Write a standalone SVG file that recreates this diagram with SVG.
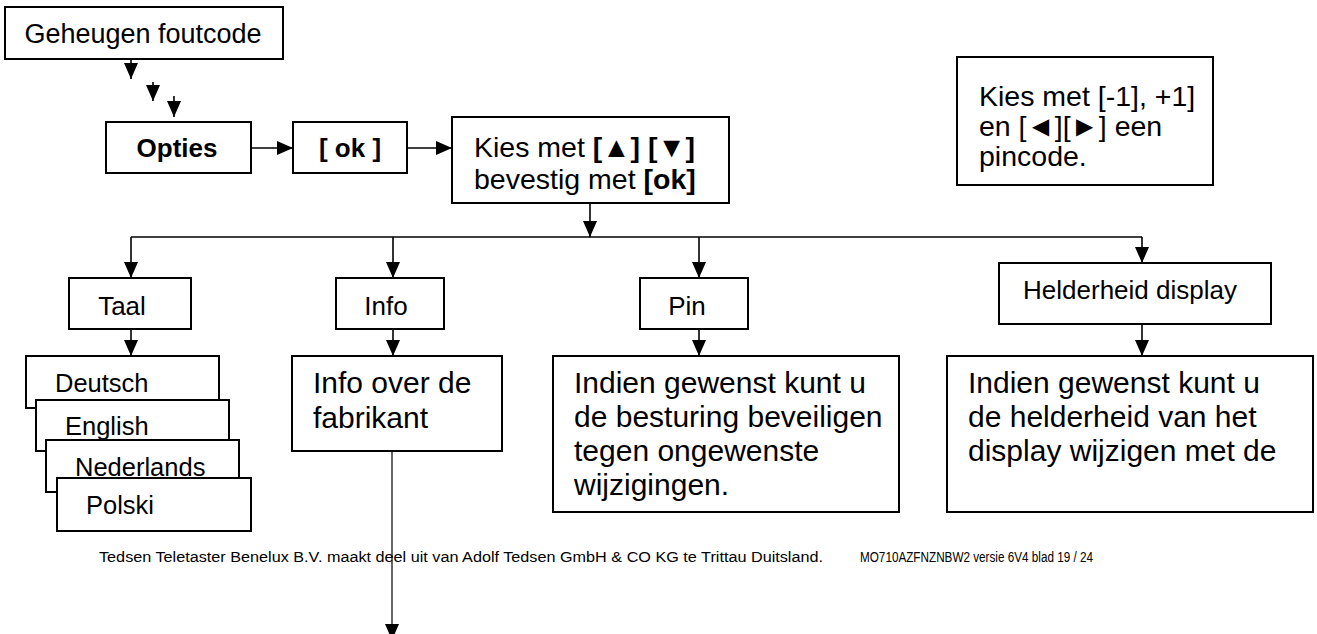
<svg xmlns="http://www.w3.org/2000/svg" width="1317" height="634" viewBox="0 0 1317 634">
<style>
.box{fill:#fff;stroke:#000;stroke-width:2}
.ln{stroke:#000;stroke-width:1.6;fill:none}
.thin{stroke:#000;stroke-width:1.2;fill:none}
text{font-family:"Liberation Sans",Arial,sans-serif;fill:#000}
.b{font-weight:bold}
.s26{font-size:26px}
.s27{font-size:27px}
.s28{font-size:28.5px}
.s30{font-size:30px}
.s25{font-size:25.5px}
.ft{font-size:14px}
</style>
<defs>
<marker id="ah" markerUnits="userSpaceOnUse" markerWidth="16" markerHeight="14" viewBox="0 0 16 14" refX="16" refY="7" orient="auto"><path d="M0,0 L16,7 L0,14 z" fill="#000"/></marker>
</defs>
<g id="connectors">
<line class="ln" x1="131" y1="59" x2="131" y2="79" marker-end="url(#ah)"/>
<line class="ln" x1="153" y1="82" x2="153" y2="101" marker-end="url(#ah)"/>
<line class="ln" x1="174" y1="96" x2="174" y2="117" marker-end="url(#ah)"/>
<line class="ln" x1="251" y1="148" x2="293" y2="148" marker-end="url(#ah)"/>
<line class="ln" x1="407" y1="148" x2="452" y2="148" marker-end="url(#ah)"/>
<line class="ln" x1="590" y1="203" x2="590" y2="237" marker-end="url(#ah)"/>
<line class="ln" x1="131" y1="237" x2="1142" y2="237"/>
<line class="ln" x1="131" y1="237" x2="131" y2="278" marker-end="url(#ah)"/>
<line class="ln" x1="393" y1="237" x2="393" y2="278" marker-end="url(#ah)"/>
<line class="ln" x1="699" y1="237" x2="699" y2="278" marker-end="url(#ah)"/>
<line class="ln" x1="1142" y1="237" x2="1142" y2="263" marker-end="url(#ah)"/>
<line class="ln" x1="131" y1="329" x2="131" y2="356" marker-end="url(#ah)"/>
<line class="ln" x1="393" y1="329" x2="393" y2="356" marker-end="url(#ah)"/>
<line class="ln" x1="699" y1="329" x2="699" y2="356" marker-end="url(#ah)"/>
<line class="ln" x1="1142" y1="324" x2="1142" y2="356" marker-end="url(#ah)"/>
<line class="thin" x1="392" y1="451" x2="392" y2="640" marker-end="url(#ah)"/>
</g>
<g id="geheugen"><rect class="box" x="5" y="7" width="278" height="52"/><text class="s27" x="143" y="43" text-anchor="middle">Geheugen foutcode</text></g>
<g id="opties"><rect class="box" x="106" y="122" width="145" height="51"/><text class="s26 b" x="177" y="157" text-anchor="middle">Opties</text></g>
<g id="ok"><rect class="box" x="293" y="122" width="114" height="51"/><text class="s26 b" x="350" y="157" text-anchor="middle">[ ok ]</text></g>
<g id="kies"><rect class="box" x="452" y="117" width="277" height="86"/>
<text class="s28" x="474" y="157">Kies met <tspan class="b">[▲] [▼]</tspan></text>
<text class="s28" x="474" y="189">bevestig met <tspan class="b">[ok]</tspan></text></g>
<g id="pinnote"><rect class="box" x="957" y="57" width="256" height="128"/>
<text class="s28" x="979" y="106">Kies met [-1], +1]</text>
<text class="s28" x="979" y="136">en [◄][►] een</text>
<text class="s28" x="979" y="166">pincode.</text></g>
<g id="taal"><rect class="box" x="69" y="278" width="122" height="51"/><text class="s26" x="122" y="315" text-anchor="middle">Taal</text></g>
<g id="info"><rect class="box" x="336" y="278" width="108" height="51"/><text class="s26" x="386" y="315" text-anchor="middle">Info</text></g>
<g id="pin"><rect class="box" x="640" y="278" width="108" height="51"/><text class="s26" x="687" y="315" text-anchor="middle">Pin</text></g>
<g id="helderheid"><rect class="box" x="999" y="263" width="272" height="61"/><text class="s26" x="1130" y="299" text-anchor="middle">Helderheid display</text></g>
<g id="deutsch"><rect class="box" x="26" y="356" width="193" height="52"/><text class="s25" x="55" y="392">Deutsch</text></g>
<g id="english"><rect class="box" x="36" y="400" width="193" height="51"/><text class="s25" x="65" y="435">English</text></g>
<g id="nederlands"><rect class="box" x="46" y="440" width="193" height="52"/><text class="s25" x="75" y="476">Nederlands</text></g>
<g id="polski"><rect class="box" x="57" y="478" width="194" height="53"/><text class="s25" x="86" y="514">Polski</text></g>
<g id="infotext"><rect class="box" x="292" y="356" width="210" height="95"/>
<text class="s30" x="313" y="393">Info over de</text>
<text class="s30" x="313" y="428">fabrikant</text></g>
<g id="pintext"><rect class="box" x="553" y="356" width="346" height="156"/>
<text class="s30" x="574" y="393">Indien gewenst kunt u</text>
<text class="s30" x="574" y="427">de besturing beveiligen</text>
<text class="s30" x="574" y="461">tegen ongewenste</text>
<text class="s30" x="574" y="495">wijzigingen.</text></g>
<g id="helderheidtext"><rect class="box" x="947" y="356" width="366" height="156"/>
<text class="s30" x="968" y="393">Indien gewenst kunt u</text>
<text class="s30" x="968" y="427">de helderheid van het</text>
<text class="s30" x="968" y="461">display wijzigen met de</text></g>
<g id="footer">
<text class="ft" x="99" y="562" textLength="724" lengthAdjust="spacingAndGlyphs">Tedsen Teletaster Benelux B.V. maakt deel uit van Adolf Tedsen GmbH &amp; CO KG te Trittau Duitsland.</text>
<text class="ft" x="860" y="562" textLength="233" lengthAdjust="spacingAndGlyphs">MO710AZFNZNBW2 versie 6V4  blad 19 / 24</text>
</g>
</svg>
